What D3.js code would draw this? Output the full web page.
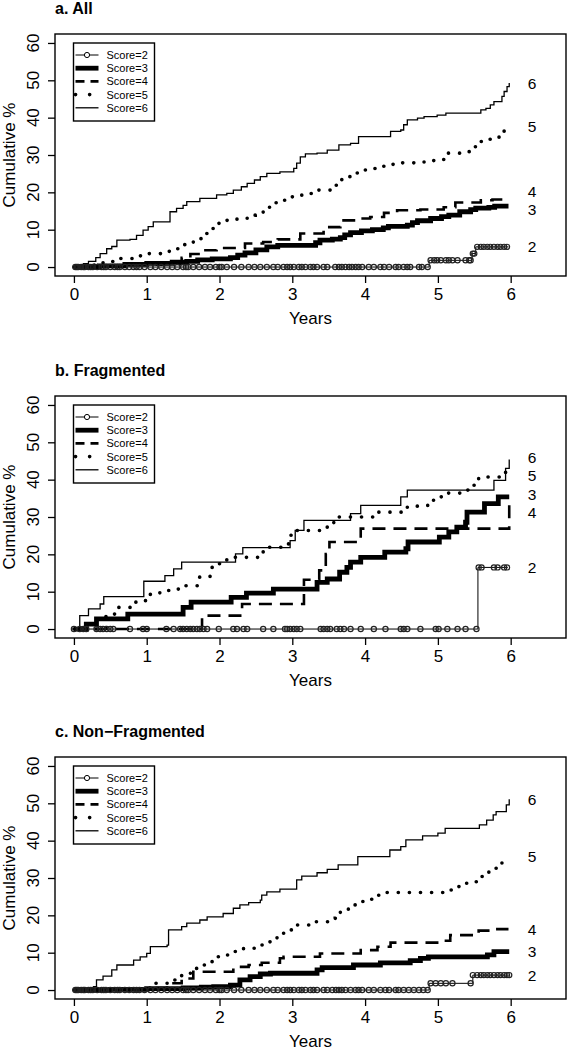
<!DOCTYPE html>
<html><head><meta charset="utf-8">
<script src="https://cdn.jsdelivr.net/npm/d3@7"></script>
<style>
body{margin:0;background:#fff}
svg{display:block}
text{font-family:"Liberation Sans",Arial,Helvetica,sans-serif;fill:#000}
</style>
</head><body>
<svg id="chart" width="568" height="1050"></svg>
<script>
// ---------- labels ----------
const xTicks = [0, 1, 2, 3, 4, 5, 6];
const yTicks = [0, 10, 20, 30, 40, 50, 60];
const legendLabels = ["Score=2", "Score=3", "Score=4", "Score=5", "Score=6"];
const endLabels = ["2", "3", "4", "5", "6"];
const panelTitles = ["a. All", "b. Fragmented", "c. Non\u2212Fragmented"];
const xTitle = "Years";
const yTitle = "Cumulative %";

// ---------- panel a: All ----------
const a2 = [[0,0],[4.88,1.8],[5.47,3.6],[5.52,5.4],[5.97,5.4]];
const a3 = [[0,0],[0.35,0.3],[0.7,0.7],[1.0,1.0],[1.35,1.3],[1.55,1.5],[1.7,1.9],[1.9,2.2],[2.15,2.5],[2.25,3.2],[2.35,3.8],[2.5,4.6],[2.65,5.4],[2.8,5.8],[3.32,6.5],[3.38,7.2],[3.55,7.5],[3.66,7.9],[3.72,8.6],[3.8,9.2],[3.95,9.7],[4.1,10.0],[4.25,10.5],[4.32,10.9],[4.58,11.2],[4.65,11.9],[4.72,12.4],[4.9,13.0],[5.05,13.5],[5.15,13.9],[5.3,14.8],[5.45,15.4],[5.52,15.8],[5.7,16.0],[5.78,16.3],[5.97,16.3]];
const a4 = [[0,0],[0.3,0.3],[0.8,0.6],[1.2,0.8],[1.48,2.5],[1.6,3.5],[1.78,4.5],[1.96,5.1],[2.35,6.3],[2.6,6.7],[2.8,7.4],[3.11,9.0],[3.43,10.7],[3.66,12.5],[3.89,13.0],[4.07,13.4],[4.26,14.5],[4.44,15.2],[4.76,15.4],[5.08,16.0],[5.24,17.3],[5.59,17.9],[5.75,18.1],[5.97,18.1]];
const a5 = [[0,0],[0.2,0.5],[0.4,1.5],[0.56,2.3],[0.8,3.0],[1.02,3.6],[1.2,4.2],[1.37,4.9],[1.5,6.0],[1.64,7.6],[1.75,9.0],[1.85,10.3],[1.96,11.7],[2.1,12.5],[2.24,13.0],[2.38,13.9],[2.49,14.5],[2.6,16.0],[2.7,17.2],[2.83,17.9],[2.97,18.8],[3.13,19.7],[3.36,20.6],[3.53,21.9],[3.61,22.8],[3.68,24.2],[3.82,25.2],[3.96,26.0],[4.09,26.4],[4.23,27.0],[4.37,27.5],[4.51,27.9],[4.81,28.5],[4.97,28.8],[5.13,30.5],[5.38,30.9],[5.47,32.2],[5.57,33.6],[5.7,34.2],[5.84,35.1],[5.91,36.9],[5.94,36.9]];
const a6 = [[0,0],[0.08,0.5],[0.13,0.9],[0.2,1.5],[0.3,2.5],[0.36,3.6],[0.45,4.9],[0.52,5.5],[0.59,7.2],[0.77,7.4],[0.86,8.5],[0.95,9.9],[1.02,10.8],[1.09,12.1],[1.32,14.8],[1.41,15.7],[1.5,16.5],[1.55,17.5],[1.73,18.4],[1.96,19.3],[2.1,19.7],[2.19,20.6],[2.3,21.5],[2.38,22.4],[2.48,23.3],[2.56,24.2],[2.65,25.1],[2.83,25.5],[3.02,26.4],[3.06,27.8],[3.11,29.5],[3.18,30.3],[3.34,30.5],[3.48,31.3],[3.64,32.7],[3.8,33.1],[3.91,34.9],[4.35,36.3],[4.49,36.7],[4.53,38.1],[4.58,39.4],[4.72,39.9],[4.81,40.3],[4.99,40.7],[5.11,41.2],[5.59,42.1],[5.66,42.5],[5.72,43.4],[5.77,44.3],[5.88,45.7],[5.91,47.0],[5.95,48.3],[5.98,49.3]];
const a2Censor = [0.02,0.04,0.06,0.1,0.13,0.15,0.2,0.23,0.26,0.32,0.38,0.41,0.44,0.5,0.56,0.6,0.63,0.7,0.76,0.82,0.86,0.9,0.97,1.05,1.12,1.2,1.28,1.35,1.42,1.5,1.54,1.57,1.64,1.72,1.8,1.87,1.95,2.0,2.03,2.1,2.2,2.3,2.4,2.48,2.56,2.65,2.74,2.8,2.88,2.93,2.97,3.02,3.09,3.13,3.18,3.25,3.29,3.34,3.43,3.48,3.59,3.64,3.68,3.73,3.78,3.82,3.87,3.91,3.96,4.05,4.12,4.21,4.26,4.33,4.42,4.46,4.53,4.58,4.62,4.74,4.78,4.86,4.9,4.95,4.99,5.04,5.11,5.15,5.2,5.27,5.38,5.43,5.45,5.48,5.5,5.54,5.59,5.63,5.68,5.72,5.77,5.82,5.86,5.91,5.95];
const aLabelY = [5.4, 15.5, 20.2, 37.6, 49.2];

// ---------- panel b: Fragmented ----------
const b2 = [[0,0],[5.55,16.5],[5.96,16.5]];
const b3 = [[0,0],[0.17,1.3],[0.31,2.7],[0.74,4.0],[1.5,5.8],[1.61,7.2],[2.16,8.5],[2.37,9.6],[2.74,10.7],[3.34,12.5],[3.48,13.4],[3.65,15.2],[3.75,16.5],[3.8,17.9],[3.94,19.2],[4.27,20.6],[4.56,21.5],[4.59,23.3],[5.02,24.6],[5.15,26.0],[5.26,27.3],[5.38,28.6],[5.40,31.3],[5.64,33.6],[5.83,35.4],[5.98,35.4]];
const b4 = [[0,0],[1.76,3.6],[2.31,6.7],[3.16,13.2],[3.37,15.7],[3.46,20.1],[3.51,23.3],[3.94,26.9],[5.98,33.6]];
const b5 = [[0,0],[0.44,4.0],[0.56,5.8],[0.82,7.2],[0.98,7.6],[1.05,9.4],[1.18,10.3],[1.32,10.7],[1.46,11.6],[1.71,13.9],[1.87,16.5],[1.99,17.5],[2.1,19.2],[2.6,21.9],[2.88,22.8],[2.95,25.1],[3.06,26.4],[3.48,28.2],[3.57,30.0],[4.17,31.3],[4.58,32.9],[4.86,34.5],[4.97,35.4],[5.08,36.4],[5.38,37.2],[5.49,38.5],[5.56,40.7],[5.93,43.0],[5.95,43.0]];
const b6 = [[0,0],[0.08,3.6],[0.2,5.4],[0.36,6.7],[0.41,8.7],[0.96,12.8],[1.25,14.3],[1.37,16.1],[1.48,17.9],[2.22,20.1],[2.32,21.8],[2.97,23.7],[3.04,26.4],[3.16,29.1],[3.8,30.9],[3.94,33.1],[4.49,35.4],[4.58,37.2],[5.77,39.8],[5.93,43.0],[5.98,45.4]];
const b2Censor = [0.0,0.08,0.13,0.17,0.31,0.36,0.4,0.45,0.5,0.54,0.77,0.95,1.0,1.27,1.37,1.46,1.5,1.55,1.6,1.64,1.69,1.73,1.78,1.83,1.99,2.19,2.24,2.33,2.38,2.6,2.74,2.9,2.93,2.97,3.02,3.06,3.11,3.39,3.43,3.48,3.52,3.61,3.66,3.71,3.8,3.94,4.12,4.28,4.49,4.53,4.58,4.76,4.97,5.01,5.13,5.27,5.38,5.53,5.56,5.6,5.77,5.82,5.91,5.95];
const bLabelY = [16.6, 36.1, 31.2, 41.1, 46.0];

// ---------- panel c: Non-Fragmented ----------
const c2 = [[0,0],[4.88,1.8],[5.48,4.0],[5.98,4.0]];
const c3 = [[0,0],[0.5,0.2],[1.0,0.4],[1.5,0.6],[1.75,0.8],[1.92,0.9],[2.15,1.3],[2.28,2.7],[2.42,3.6],[2.56,4.3],[2.70,4.5],[3.34,5.4],[3.41,6.0],[3.84,6.7],[4.21,7.3],[4.62,7.85],[4.76,8.5],[4.87,8.9],[5.68,9.4],[5.77,10.3],[5.98,10.3]];
const c4 = [[0,0],[1.1,0.5],[1.28,1.8],[1.48,3.1],[1.64,4.9],[2.19,6.2],[2.40,6.7],[2.58,7.3],[2.83,8.5],[2.88,8.9],[3.38,9.8],[3.94,10.7],[4.17,11.6],[4.35,12.7],[4.99,13.2],[5.17,14.7],[5.56,15.9],[5.75,16.3],[5.97,16.3]];
const c5 = [[0,0],[0.9,0.5],[1.09,1.8],[1.28,2.7],[1.48,4.0],[1.60,5.8],[1.73,6.7],[1.85,7.6],[1.96,8.9],[2.08,9.4],[2.19,10.3],[2.33,11.2],[2.51,12.05],[2.65,12.9],[2.79,15.2],[2.95,16.1],[3.04,17.4],[3.31,18.3],[3.59,19.2],[3.66,21.4],[3.77,22.8],[3.89,23.7],[4.03,24.3],[4.14,25.4],[4.28,26.1],[5.08,26.8],[5.2,27.7],[5.34,28.6],[5.47,29.0],[5.59,30.4],[5.70,31.7],[5.79,32.6],[5.88,34.1],[5.9,34.1]];
const c6 = [[0,0],[0.27,0.9],[0.31,2.7],[0.40,3.75],[0.52,5.4],[0.59,6.7],[0.82,8.0],[0.91,8.9],[1.0,9.8],[1.05,11.6],[1.28,12.05],[1.30,16.1],[1.48,17.0],[1.55,17.9],[1.73,18.75],[1.83,19.6],[2.05,20.5],[2.19,21.9],[2.28,22.8],[2.40,23.4],[2.56,24.1],[2.58,25.4],[2.65,26.3],[2.83,27.0],[3.06,29.5],[3.13,30.5],[3.34,31.4],[3.48,32.3],[3.63,33.5],[3.90,35.7],[4.34,37.5],[4.49,38.4],[4.56,40.2],[4.79,41.3],[5.0,42.0],[5.10,43.3],[5.57,44.2],[5.67,45.5],[5.76,46.9],[5.80,47.8],[5.94,49.6],[5.98,51.1]];
const c2Censor = [0.02,0.04,0.06,0.1,0.13,0.15,0.2,0.23,0.26,0.32,0.38,0.41,0.44,0.5,0.56,0.6,0.63,0.7,0.76,0.82,0.86,0.9,0.97,1.05,1.12,1.2,1.28,1.35,1.42,1.5,1.54,1.57,1.64,1.72,1.8,1.87,1.95,2.0,2.03,2.1,2.2,2.3,2.4,2.48,2.56,2.65,2.74,2.8,2.88,2.93,2.97,3.02,3.09,3.13,3.18,3.25,3.29,3.34,3.43,3.48,3.55,3.6,3.64,3.68,3.73,3.8,3.87,3.91,3.96,4.05,4.12,4.21,4.28,4.33,4.42,4.46,4.53,4.6,4.67,4.74,4.8,4.86,4.9,4.97,5.04,5.11,5.2,5.45,5.48,5.54,5.59,5.63,5.68,5.72,5.77,5.82,5.86,5.91,5.95,5.98];
const cLabelY = [4.0, 10.3, 16.3, 35.7, 51.1];

// ---------- layout ----------
const panels = [
  {title: panelTitles[0], top: 34,  series: [a2,a3,a4,a5,a6], censor: a2Censor, labelY: aLabelY},
  {title: panelTitles[1], top: 396, series: [b2,b3,b4,b5,b6], censor: b2Censor, labelY: bLabelY},
  {title: panelTitles[2], top: 757, series: [c2,c3,c4,c5,c6], censor: c2Censor, labelY: cLabelY}
];
const boxL = 55, boxR = 566, boxH = 242;
const styles = [
  {w: 1.0, dash: null, cap: "butt"},
  {w: 4.8, dash: null, cap: "butt"},
  {w: 2.6, dash: "13,8", cap: "butt"},
  {w: 3.6, dash: "0.1,11", cap: "round"},
  {w: 1.3, dash: null, cap: "butt"}
];
const legendDash = [null, null, "9,6", "0.1,14", null];

const svg = d3.select("#chart");
const x = d3.scaleLinear().domain([-0.26, 6.76]).range([boxL, boxR]);

panels.forEach(p => {
  const bottom = p.top + boxH;
  const y = d3.scaleLinear().domain([-2.4, 62.4]).range([bottom, p.top]);
  const g = svg.append("g");

  g.append("text").attr("x", boxL).attr("y", p.top - 20)
    .style("font-weight", "bold").style("font-size", "16px").text(p.title);

  const line = d3.line().x(d => x(d[0])).y(d => y(d[1])).curve(d3.curveStepAfter);
  p.series.forEach((s, i) => {
    const st = styles[i];
    g.append("path").attr("d", line(s)).attr("fill", "none")
      .attr("stroke", "#000").attr("stroke-width", st.w)
      .attr("stroke-linecap", st.cap)
      .attr("stroke-dasharray", st.dash);
  });

  const s2 = p.series[0];
  const bis = d3.bisector(d => d[0]).right;
  const valAt = t => s2[Math.max(0, bis(s2, t) - 1)][1];
  g.selectAll("circle.cens").data(p.censor).join("circle")
    .attr("class", "cens")
    .attr("cx", t => x(t)).attr("cy", t => y(valAt(t))).attr("r", 2.6)
    .attr("fill", "none").attr("stroke", "#222").attr("stroke-width", 1.2);

  g.append("rect").attr("x", boxL).attr("y", p.top)
    .attr("width", boxR - boxL).attr("height", boxH)
    .attr("fill", "none").attr("stroke", "#000").attr("stroke-width", 1.4);

  const xa = g.append("g").attr("transform", `translate(0,${bottom})`)
    .call(d3.axisBottom(x).tickValues(xTicks).tickSize(7).tickPadding(5).tickFormat(d3.format("d")));
  xa.select(".domain").remove();
  xa.selectAll("line").attr("stroke", "#000").attr("stroke-width", 1.3);
  xa.selectAll("text").style("font-size", "17px").attr("fill", "#000")
    .style("font-family", "'Liberation Sans',Arial,sans-serif");

  const ya = g.append("g").attr("transform", `translate(${boxL},0)`)
    .call(d3.axisLeft(y).tickValues(yTicks).tickSize(7).tickFormat(""));
  ya.select(".domain").remove();
  ya.selectAll("line").attr("stroke", "#000").attr("stroke-width", 1.3);
  g.selectAll("text.ytl").data(yTicks).join("text").attr("class", "ytl")
    .attr("transform", d => `translate(32.5,${y(d)}) rotate(-90)`)
    .attr("text-anchor", "middle").attr("dy", "0.36em")
    .style("font-size", "17px").text(d => d);

  g.append("text").attr("x", (boxL + boxR) / 2).attr("y", bottom + 48)
    .attr("text-anchor", "middle").style("font-size", "17px").text(xTitle);
  g.append("text").attr("transform", `translate(8.5,${(p.top + bottom) / 2}) rotate(-90)`)
    .attr("text-anchor", "middle").attr("dy", "0.36em")
    .style("font-size", "17px").text(yTitle);

  g.selectAll("text.endl").data(endLabels).join("text").attr("class", "endl")
    .attr("x", 532).attr("y", (d, i) => y(p.labelY[i]))
    .attr("text-anchor", "middle").attr("dy", "0.36em")
    .style("font-size", "15.5px").text(d => d);

  const lg = g.append("g");
  lg.append("rect").attr("x", 73.5).attr("y", p.top + 9)
    .attr("width", 81).attr("height", 78)
    .attr("fill", "#fff").attr("stroke", "#000").attr("stroke-width", 1.4);
  legendLabels.forEach((lab, i) => {
    const ry = p.top + 21 + 13.2 * i;
    const st = styles[i];
    lg.append("line").attr("x1", 75.5).attr("x2", 98.5).attr("y1", ry).attr("y2", ry)
      .attr("stroke", "#000").attr("stroke-width", st.w)
      .attr("stroke-linecap", st.cap).attr("stroke-dasharray", legendDash[i]);
    if (i === 0) {
      lg.append("circle").attr("cx", 87).attr("cy", ry).attr("r", 2.6)
        .attr("fill", "#fff").attr("stroke", "#000").attr("stroke-width", 1);
    }
    lg.append("text").attr("x", 106.5).attr("y", ry).attr("dy", "0.36em")
      .style("font-size", "11px").text(lab);
  });
});
</script>
</body></html>
